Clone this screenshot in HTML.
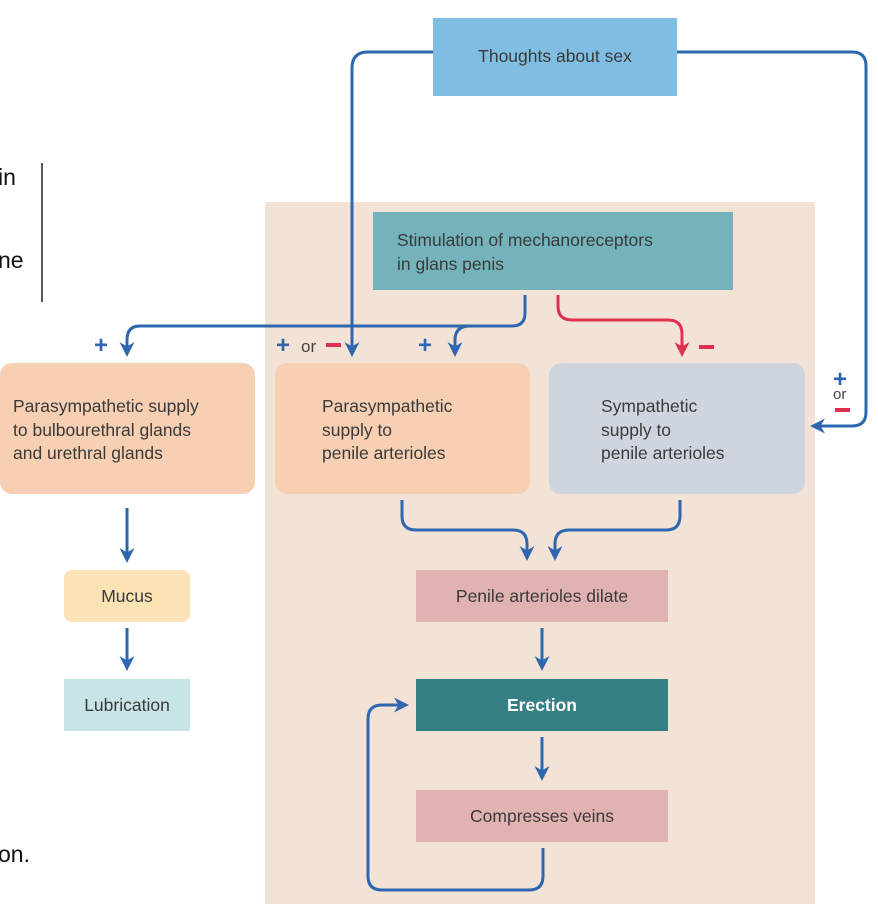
<!DOCTYPE html>
<html><head><meta charset="utf-8"><style>
body{margin:0;width:878px;height:904px;background:#fff;overflow:hidden}
svg{display:block}
.t{font-family:"Liberation Sans",sans-serif;font-size:17.5px;fill:#3a3a3a}
.o{font-family:"Liberation Sans",sans-serif;font-size:23px;fill:#111}
</style></head><body>
<svg width="878" height="904" viewBox="0 0 878 904">
<defs>
<marker id="ab" viewBox="0 0 10 10" refX="8" refY="5" markerWidth="5" markerHeight="5" orient="auto"><path d="M0,0 L10,5 L0,10 L3,5z" fill="#2e67b0"/></marker>
<marker id="ar" viewBox="0 0 10 10" refX="8" refY="5" markerWidth="5" markerHeight="5" orient="auto"><path d="M0,0 L10,5 L0,10 L3,5z" fill="#e0304f"/></marker>
</defs>
<rect x="265" y="202" width="550" height="702" fill="#f3e3d7"/>
<text class="o" x="-2" y="185">in</text>
<text class="o" x="-2" y="268">ne</text>
<text class="o" x="-2" y="862">on.</text>
<line x1="42" y1="163" x2="42" y2="302" stroke="#222" stroke-width="1.5"/>

<rect x="433" y="18" width="244" height="78" fill="#80bde3"/>
<text class="t" x="555" y="62" text-anchor="middle">Thoughts about sex</text>
<rect x="373" y="212" width="360" height="78" fill="#74b3bb"/>
<text class="t" x="397" y="246">Stimulation of mechanoreceptors</text>
<text class="t" x="397" y="270">in glans penis</text>

<rect x="0" y="363" width="255" height="131" rx="12" fill="#f7cfb3"/>
<text class="t" x="13" y="412">Parasympathetic supply</text>
<text class="t" x="13" y="436">to bulbourethral glands</text>
<text class="t" x="13" y="459">and urethral glands</text>
<rect x="275" y="363" width="255" height="131" rx="12" fill="#f7cfb3"/>
<text class="t" x="322" y="412">Parasympathetic</text>
<text class="t" x="322" y="436">supply to</text>
<text class="t" x="322" y="459">penile arterioles</text>
<rect x="549" y="363" width="256" height="131" rx="12" fill="#cfd5df"/>
<text class="t" x="601" y="412">Sympathetic</text>
<text class="t" x="601" y="436">supply to</text>
<text class="t" x="601" y="459">penile arterioles</text>

<rect x="416" y="570" width="252" height="52" fill="#e0b2b2"/>
<text class="t" x="542" y="602" text-anchor="middle">Penile arterioles dilate</text>
<rect x="416" y="679" width="252" height="52" fill="#357f85"/>
<text class="t" x="542" y="711" text-anchor="middle" style="fill:#fff;font-weight:bold">Erection</text>
<rect x="416" y="790" width="252" height="52" fill="#e0b2b2"/>
<text class="t" x="542" y="822" text-anchor="middle">Compresses veins</text>
<rect x="64" y="570" width="126" height="52" rx="8" fill="#fbe3b5"/>
<text class="t" x="127" y="602" text-anchor="middle">Mucus</text>
<rect x="64" y="679" width="126" height="52" fill="#c7e5e6"/>
<text class="t" x="127" y="711" text-anchor="middle">Lubrication</text>

<g fill="none" stroke="#2e67b0" stroke-width="3">
<path d="M433,52 H368 Q352,52 352,68 V354" marker-end="url(#ab)"/>
<path d="M677,52 H852 Q866,52 866,66 V412 Q866,426 852,426 H813" marker-end="url(#ab)"/>
<path d="M525,295 V313 Q525,326 512,326 H140 Q127,326 127,340 V354" marker-end="url(#ab)"/>
<path d="M470,326 Q455,326 455,340 V354" marker-end="url(#ab)"/>
<path d="M402,500 V516 Q402,530 416,530 H513 Q527,530 527,544 V558" marker-end="url(#ab)"/>
<path d="M680,500 V516 Q680,530 666,530 H569 Q555,530 555,544 V558" marker-end="url(#ab)"/>
<path d="M542,628 V668" marker-end="url(#ab)"/>
<path d="M542,737 V778" marker-end="url(#ab)"/>
<path d="M127,508 V560" marker-end="url(#ab)"/>
<path d="M127,628 V668" marker-end="url(#ab)"/>
<path d="M543,848 V876 Q543,890 529,890 H382 Q368,890 368,876 V719 Q368,705 382,705 H406" marker-end="url(#ab)"/>
</g>
<path d="M558,295 V306 Q558,320 572,320 H668 Q682,320 682,334 V354" fill="none" stroke="#e0304f" stroke-width="3" marker-end="url(#ar)"/>
<g font-family="Liberation Sans,sans-serif" font-weight="bold" font-size="24">
<text x="94" y="353" fill="#2e67b0">+</text>
<text x="276" y="353" fill="#2e67b0">+</text>
<text x="418" y="353" fill="#2e67b0">+</text>
<text x="833" y="387" fill="#2e67b0">+</text>
</g>
<text x="301" y="352" font-family="Liberation Sans,sans-serif" font-size="17" fill="#444">or</text>
<rect x="326" y="343" width="15" height="4" fill="#e0304f"/>
<rect x="699" y="345" width="15" height="4" fill="#e0304f"/>
<text x="833" y="399" font-family="Liberation Sans,sans-serif" font-size="15" fill="#444">or</text>
<rect x="835" y="408" width="15" height="4" fill="#e0304f"/>
</svg>
</body></html>
